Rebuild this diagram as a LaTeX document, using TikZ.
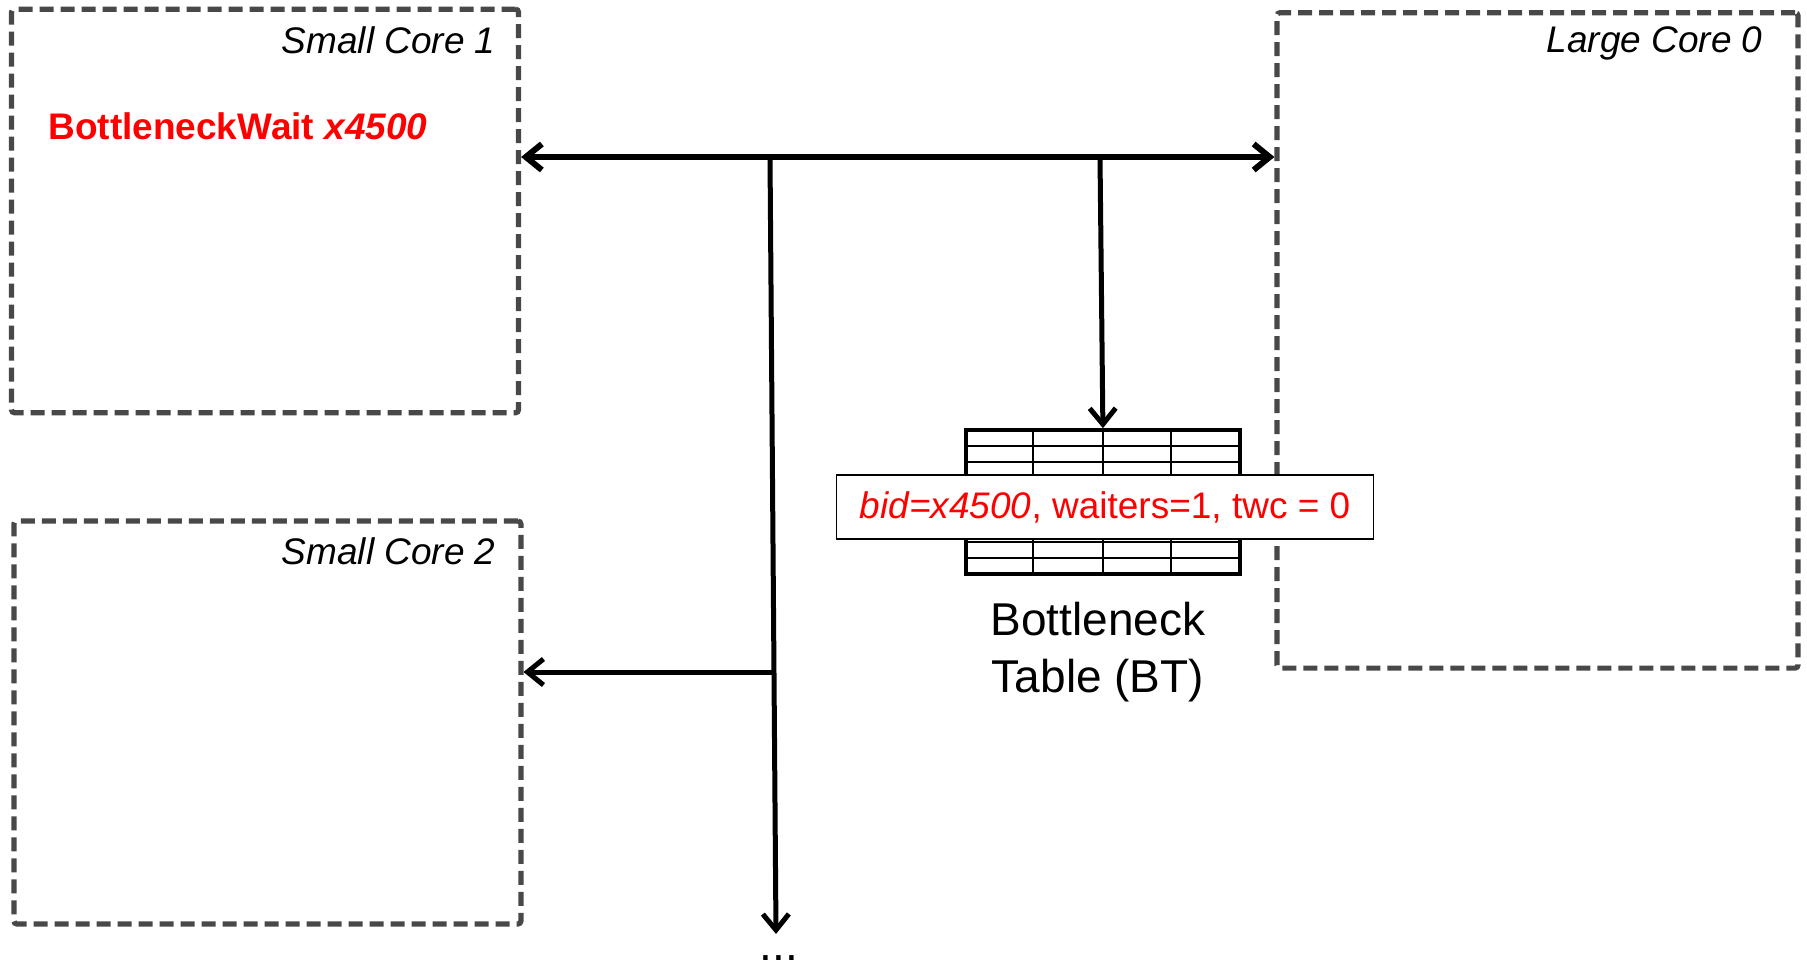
\documentclass[tikz,border=0pt]{standalone}
\usepackage{fontspec}
\setmainfont{Liberation Sans}
\usepackage{xcolor}
\usetikzlibrary{arrows.meta,positioning}
\definecolor{coreline}{RGB}{72,72,72}
\definecolor{btred}{RGB}{255,0,0}

\begin{document}
\begin{tikzpicture}[x=0.5pt,y=-0.5pt,
		core/.style={draw=coreline, line width=2.6pt, dash pattern=on 7pt off 3.5pt, rounded corners=1.5pt, inner sep=0pt},
		corelbl/.style={font=\fontsize{18.5}{22}\selectfont\itshape, inner sep=0pt},
		bus/.style={line width=3pt},
		feed/.style={line width=2.5pt},
		>={Straight Barb[length=8pt,width=13pt]}]
			\useasboundingbox (0,0) rectangle (1807,969);
			\def\tl{965.7}
			\def\tr{1240}
			
			% cores
			\node[core, minimum width=253.5pt, minimum height=201.8pt] (sc1) at (265,211) {};
			\node[core, minimum width=260.5pt, minimum height=327.7pt] (lc0) at (1537.5,340.4) {};
			\node[core, minimum width=253.5pt, minimum height=201.5pt] (sc2) at (267.4,722.5) {};
			
			\node[corelbl, anchor=east] (sc1lbl) at (496,40) {Small Core 1};
			\node[corelbl, anchor=east] (lc0lbl) at (1763,43) {Large Core 0};
			\node[corelbl, anchor=east] (sc2lbl) at (496,551) {Small Core 2};
			\node[font=\fontsize{18.5}{22}\selectfont\bfseries, text=btred, anchor=west, inner sep=0pt] (bwait) at (48,126) {BottleneckWait \textit{x4500}};
			
			% Bottleneck table: 4 columns, 9 rows
			\node[draw, line width=1.8pt, minimum width=137pt, minimum height=72pt, inner sep=0pt] (bt) at (1102.9,502) {};
			\foreach \c in {1032.9,1102.9,1171}
				\draw[line width=1.1pt] (\c,430) -- (\c,574);
			\foreach \r in {446,462,...,558}
				\draw[line width=1.1pt] (\tl,\r) -- (\tr,\r);
			
			\node[draw, line width=0.8pt, fill=white, minimum width=268.5pt, minimum height=32pt, inner sep=0pt, text=btred, font=\fontsize{18.5}{22}\selectfont] (entry) at (1105,507) {\textit{bid=x4500}, waiters=1, twc = 0};
			
			\node[font=\fontsize{23}{28.5}\selectfont, align=center, inner sep=0pt] (btcap) at (1098,652) {Bottleneck\\Table (BT)};
			
			% interconnect
			\coordinate (jA) at (770,157);
			\coordinate (jB) at (1100,157);
			\coordinate (jC) at (773.5,672);
			\coordinate (tipD) at (776,934);
			\node[font=\fontsize{23}{28}\selectfont, anchor=base, inner sep=0pt] (dots) at (779,960) {...};
			
			\draw[bus, <->] (jA -| sc1.east) -- (jA -| lc0.west);
			\draw[feed, ->] (jA) -- (tipD);
			\draw[feed, ->] (jC) -- (jC -| sc2.east);
			\draw[feed, ->] (jB) -- (bt.north);
			
		\end{tikzpicture}
\end{document}
